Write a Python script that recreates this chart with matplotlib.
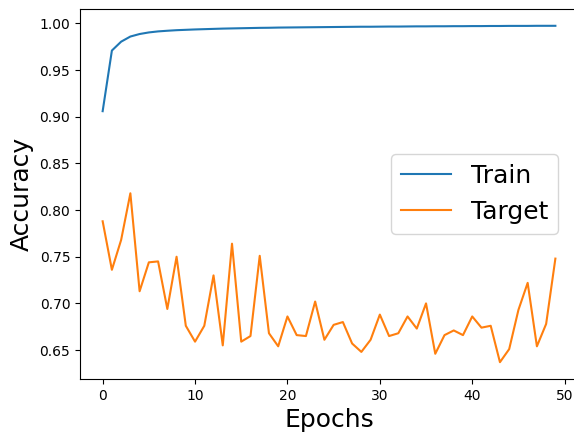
import matplotlib
matplotlib.use("Agg")
import matplotlib.pyplot as plt

epochs = list(range(50))

train_acc = [0.906, 0.971, 0.9805, 0.986, 0.9887, 0.9904, 0.9915, 0.9922, 0.9928, 0.9932,
             0.9936, 0.9939, 0.9942, 0.9945, 0.9947, 0.9949, 0.9951, 0.9953, 0.9954, 0.9956,
             0.9957, 0.9958, 0.9959, 0.9960, 0.9961, 0.9962, 0.9963, 0.9964, 0.9965, 0.9965,
             0.9966, 0.9967, 0.9967, 0.9968, 0.9969, 0.9969, 0.9970, 0.9970, 0.9971, 0.9971,
             0.9972, 0.9972, 0.9973, 0.9973, 0.9974, 0.9974, 0.9974, 0.9975, 0.9975, 0.9975]

target_acc = [0.788, 0.736, 0.768, 0.818, 0.713, 0.744, 0.745, 0.694, 0.750, 0.676,
              0.659, 0.676, 0.730, 0.655, 0.764, 0.659, 0.665, 0.751, 0.668, 0.654,
              0.686, 0.666, 0.665, 0.702, 0.661, 0.677, 0.680, 0.657, 0.648, 0.661,
              0.688, 0.665, 0.668, 0.686, 0.673, 0.700, 0.646, 0.666, 0.671, 0.666,
              0.686, 0.674, 0.676, 0.637, 0.651, 0.693, 0.722, 0.654, 0.678, 0.748]

fig = plt.figure(figsize=(5.74, 4.32), dpi=100)
# axes runs a few pixels past the right edge, like the reference crop
ax = fig.add_axes([0.1394, 0.1227, 0.8676, 0.8565])
ax.plot(epochs, train_acc, label="Train")
ax.plot(epochs, target_acc, label="Target")
ax.set_xlabel("Epochs", fontsize=18)
ax.set_ylabel("Accuracy", fontsize=18)
ax.set_xticks([0, 10, 20, 30, 40, 50])
ax.legend(loc="center right", fontsize=18, bbox_to_anchor=(0.985, 0.5))
fig.savefig("out.png", dpi=100)
